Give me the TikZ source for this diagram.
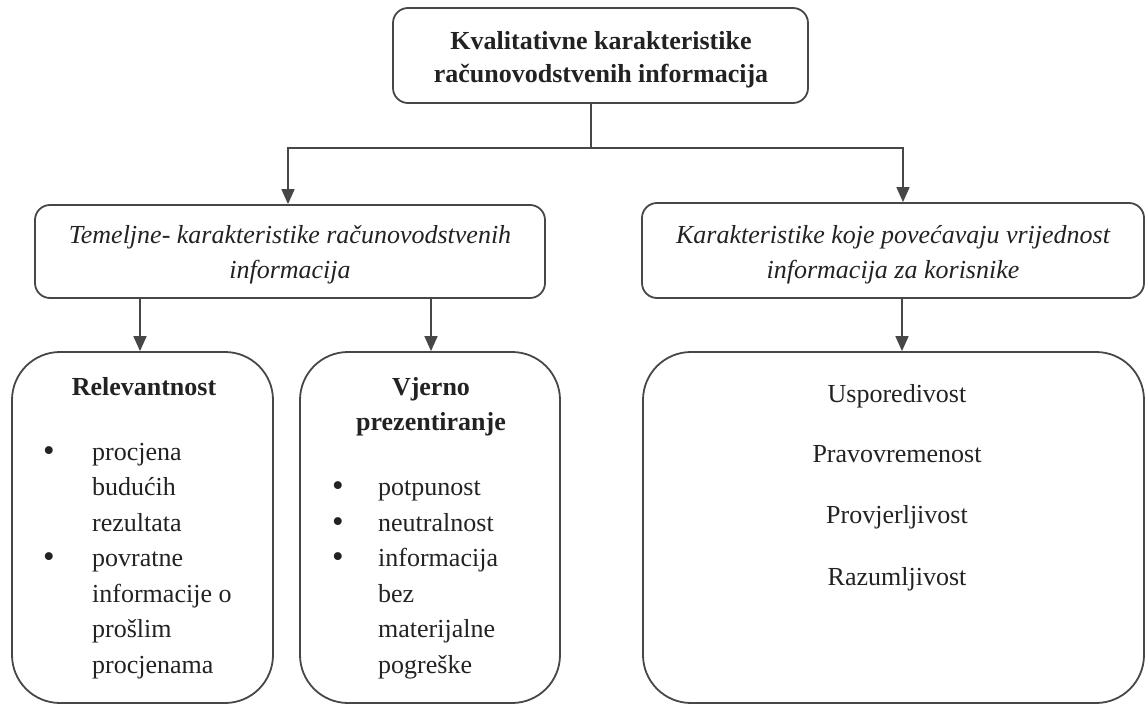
\documentclass[tikz,border=0pt]{standalone}
\usepackage{fontspec}
\setmainfont{Liberation Serif}
\usetikzlibrary{arrows.meta}
\definecolor{linec}{HTML}{474747}
\definecolor{txtc}{HTML}{222222}
\tikzset{
  box/.style={draw=linec, line width=1.8pt, rounded corners=15pt, inner sep=0pt},
  bigbox/.style={draw=linec, line width=1.8pt, rounded corners=48pt, inner sep=0pt},
  conn/.style={draw=linec, line width=1.6pt},
  arr/.style={conn, -{Triangle[length=15pt,width=13pt]}},
  txt/.style={text=txtc, font=\fontsize{26}{34.5}\selectfont, inner sep=0pt},
  ctr/.style={txt, anchor=base},
  bctr/.style={ctr, font=\fontsize{26}{34.5}\selectfont\bfseries},
  ictr/.style={ctr, font=\fontsize{26}{34.5}\selectfont\itshape},
  itm/.style={txt, anchor=base west},
  bul/.style={txt, anchor=base, font=\fontsize{33}{34.5}\selectfont},
}
\begin{document}
\begin{tikzpicture}[x=1pt,y=-1pt]
\useasboundingbox (0,0) rectangle (1145,706);
% boxes
\node[box, minimum width=415pt, minimum height=95pt] (top) at (600.5,55.5) {};
\node[bctr] (toptxt1) at (601,50) {Kvalitativne karakteristike};
\node[bctr] (toptxt2) at (601,83) {računovodstvenih informacija};
\node[box, minimum width=510pt, minimum height=93pt] (m1) at (290,251.5) {};
\node[ictr] (m1txt1) at (290,243) {Temeljne- karakteristike računovodstvenih};
\node[ictr] (m1txt2) at (290,278) {informacija};
\node[box, minimum width=502pt, minimum height=95pt] (m2) at (893,250.5) {};
\node[ictr] (m2txt1) at (893,243) {Karakteristike koje povećavaju vrijednost};
\node[ictr] (m2txt2) at (893,278) {informacija za korisnike};
\node[bigbox, minimum width=261pt, minimum height=351pt] (b1) at (142.5,527.5) {};
\node[bigbox, minimum width=260pt, minimum height=351pt] (b2) at (430,527.5) {};
\node[bigbox, minimum width=501pt, minimum height=351pt] (b3) at (893.5,527.5) {};
% connectors
\coordinate (split) at (591,148);
\coordinate (lsplit) at (288,148);
\coordinate (rsplit) at (903,148);
\draw[conn] (split |- top.south) -- (split);
\draw[arr] (split) -- (lsplit) -- (lsplit |- m1.north);
\draw[arr] (split) -- (rsplit) -- (rsplit |- m2.north);
\coordinate (a1) at (140,298);
\coordinate (a2) at (431,298);
\coordinate (a3) at (902,298);
\draw[arr] (a1 |- m1.south) -- (a1 |- b1.north);
\draw[arr] (a2 |- m1.south) -- (a2 |- b2.north);
\draw[arr] (a3 |- m2.south) -- (a3 |- b3.north);
% left box text
\node[bctr] (t1) at (144,395) {Relevantnost};
\node[bul] (u1) at (49,461) {\textbullet};
\node[itm] (l1) at (92,460) {procjena};
\node[itm] (l2) at (92,495.5) {budućih};
\node[itm] (l3) at (92,531) {rezultata};
\node[bul] (u2) at (49,567.5) {\textbullet};
\node[itm] (l4) at (92,566.5) {povratne};
\node[itm] (l5) at (92,602) {informacije o};
\node[itm] (l6) at (92,637.5) {prošlim};
\node[itm] (l7) at (92,673) {procjenama};
% middle box text
\node[bctr] (t2a) at (431,395) {Vjerno};
\node[bctr] (t2b) at (431,430) {prezentiranje};
\node[bul] (v1) at (338,496.5) {\textbullet};
\node[itm] (k1) at (378,495.5) {potpunost};
\node[bul] (v2) at (338,532) {\textbullet};
\node[itm] (k2) at (378,531) {neutralnost};
\node[bul] (v3) at (338,567.5) {\textbullet};
\node[itm] (k3) at (378,566.5) {informacija};
\node[itm] (k4) at (378,602) {bez};
\node[itm] (k5) at (378,637.5) {materijalne};
\node[itm] (k6) at (378,673) {pogreške};
% right box text
\node[ctr] (r1) at (897,402) {Usporedivost};
\node[ctr] (r2) at (897,462) {Pravovremenost};
\node[ctr] (r3) at (897,523) {Provjerljivost};
\node[ctr] (r4) at (897,585) {Razumljivost};
\end{tikzpicture}
\end{document}
